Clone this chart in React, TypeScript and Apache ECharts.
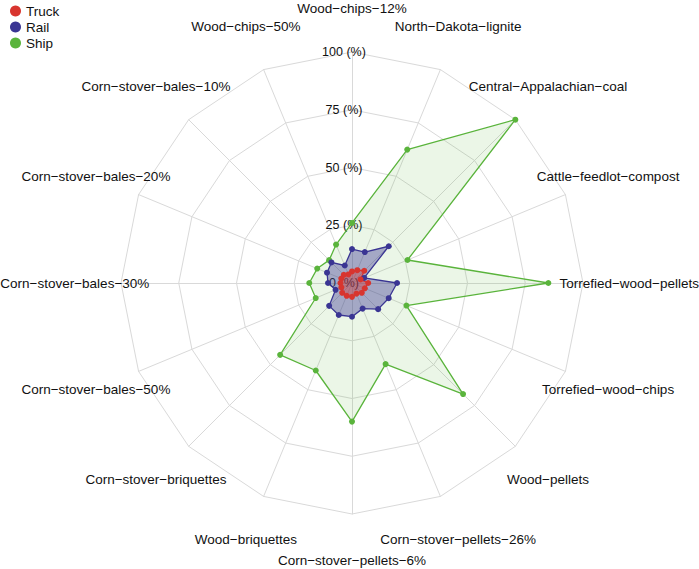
import React, { useEffect, useRef } from "react";
import * as echarts from "echarts";

const categories = [
  "Wood−chips−12%",
  "North−Dakota−lignite",
  "Central−Appalachian−coal",
  "Cattle−feedlot−compost",
  "Torrefied−wood−pellets",
  "Torrefied−wood−chips",
  "Wood−pellets",
  "Corn−stover−pellets−26%",
  "Corn−stover−pellets−6%",
  "Wood−briquettes",
  "Corn−stover−briquettes",
  "Corn−stover−bales−50%",
  "Corn−stover−bales−30%",
  "Corn−stover−bales−20%",
  "Corn−stover−bales−10%",
  "Wood−chips−50%",
];

const truck = [5, 6, 7.5, 4, 7, 6, 6, 5, 6, 6, 6, 5, 5, 5, 5, 4];
const rail = [14.7, 14.5, 22.5, 5.7, 19.5, 17.2, 16, 12, 14.6, 15, 14, 7.7, 10.4, 11.7, 12.6, 8.2];
const ship = [26, 62.5, 100, 26, 85, 25.5, 68, 38, 60, 41, 44, 17, 18.5, 16.3, 14, 18];

const seriesNames = ["Truck", "Rail", "Ship"];
const seriesColors = ["#d8352f", "#3a3593", "#5ab43c"];
const areaOpacity = [0.4, 0.4, 0.12];
const ringTicks = ["0 (%)", "25 (%)", "50 (%)", "75 (%)", "100 (%)"];

const CX = 352;
const CY = 283;
const R = 231;
const FONT = "'Liberation Sans', Arial, Helvetica, sans-serif";

export default function App() {
  const ref = useRef<HTMLDivElement>(null);

  useEffect(() => {
    const chart = echarts.init(ref.current!, null, { renderer: "svg" });
    const n = categories.length;
    // ECharts radar runs counter-clockwise; reorder so categories run clockwise
    const order = categories.map((_, i) => (i === 0 ? 0 : n - i));
    const reorder = (arr: any[]) => order.map((i) => arr[i]);
    const values = [truck, rail, ship];

    const catLabels = categories.map((c, i) => {
      const a = (i / n) * Math.PI * 2;
      return {
        type: "text",
        z: 1,
        x: CX + 1.2 * R * Math.sin(a),
        y: Math.max(8, CY - 1.2 * R * Math.cos(a)),
        style: {
          text: c,
          align: "center",
          verticalAlign: "middle",
          fontSize: 13.5,
          fontFamily: FONT,
          fill: "#111",
        },
      };
    });
    const tickLabels = ringTicks.map((t, i) => ({
      type: "text",
      z: 1,
      x: CX - 8,
      y: CY - (R * i) / (ringTicks.length - 1),
      style: {
        text: t,
        align: "center",
        verticalAlign: "middle",
        fontSize: 12.5,
        fontFamily: FONT,
        fill: "#111",
      },
    }));

    const dataOrder = [2, 1, 0];
    chart.setOption({
      animation: false,
      legend: {
        data: seriesNames,
        orient: "vertical",
        left: 10,
        top: 4,
        padding: 0,
        icon: "circle",
        itemWidth: 11,
        itemHeight: 11,
        itemGap: 2,
        textStyle: { fontSize: 13.5, fontFamily: FONT, color: "#111" },
      },
      radar: {
        center: [CX, CY],
        radius: R,
        shape: "polygon",
        splitNumber: 4,
        indicator: reorder(categories).map((c) => ({ name: c, min: 0, max: 100 })),
        axisName: { show: false },
        axisLine: { lineStyle: { color: "#d9d9d9", width: 1 } },
        splitLine: { lineStyle: { color: "#d9d9d9", width: 1 } },
        splitArea: { show: false },
      },
      graphic: [...catLabels, ...tickLabels],
      series: [
        {
          type: "radar",
          symbol: "circle",
          symbolSize: 6,
          z: 3,
          data: dataOrder.map((k) => ({
            name: seriesNames[k],
            value: reorder(values[k]),
            itemStyle: { color: seriesColors[k] },
            lineStyle: { color: seriesColors[k], width: 1.3 },
            areaStyle: { color: seriesColors[k], opacity: areaOpacity[k] },
          })),
        },
      ],
    });
    return () => chart.dispose();
  }, []);

  return (
    <div
      ref={ref}
      style={{ position: "fixed", left: 0, top: 0, width: 699, height: 569, background: "#fff" }}
    />
  );
}
